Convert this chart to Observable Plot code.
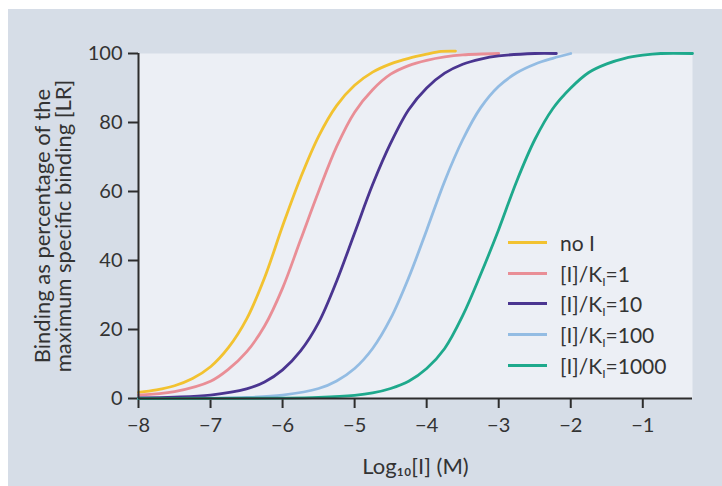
<!DOCTYPE html>
<html>
<head>
<meta charset="utf-8">
<script src="https://cdn.jsdelivr.net/npm/d3@7"></script>
<script src="https://cdn.jsdelivr.net/npm/@observablehq/plot@0.6"></script>
<style>
  html, body { margin: 0; padding: 0; background: #ffffff; }
  body { width: 722px; height: 486px; position: relative; overflow: hidden; font-family: Lato, "DejaVu Sans", sans-serif; color: #333; }
  #panel { position: absolute; left: 8px; top: 9px; right: 0; bottom: 0; background: #d6dde7; }
  #chart { position: absolute; left: 0; top: 0; }
  #legend { position: absolute; left: 508px; top: 227px; font-size: 21px; color: #333; }
  .row { display: flex; align-items: center; height: 30.7px; white-space: nowrap; }
  .sw { width: 39px; height: 3px; margin-right: 13px; }
  sub { font-size: 12px; vertical-align: -4px; line-height: 0; }
</style>
</head>
<body>
<div id="panel"></div>
<div id="chart"></div>
<div id="legend"></div>
<script>
// Series: x = Log10[I] (M), y = binding as % of max specific binding
const noI_x = [-8, -7.75, -7.5, -7.25, -7, -6.75, -6.5, -6.25, -6, -5.75, -5.5, -5.25, -5, -4.75, -4.5, -4.25, -4, -3.8, -3.6];
const noI_y = [1.8, 2.5, 3.7, 5.8, 9.2, 14.8, 23, 35, 50, 64, 76, 84.9, 90.8, 94.6, 97, 98.6, 99.8, 100.6, 100.7];

const k1_x = [-8, -7.5, -7, -6.75, -6.5, -6.25, -6, -5.75, -5.5, -5.25, -5, -4.75, -4.5, -4.25, -4, -3.75, -3.5, -3];
const k1_y = [1.0, 2.0, 5.0, 8.5, 13.5, 21, 32, 46, 60, 73, 83, 89.5, 94, 96.5, 98, 99, 99.6, 100];

const k10_x = [-8, -7.5, -7, -6.5, -6.25, -6, -5.75, -5.5, -5.25, -5, -4.75, -4.5, -4.25, -4, -3.75, -3.5, -3.25, -3, -2.5, -2.2];
const k10_y = [0.2, 0.4, 1.0, 2.8, 4.8, 8.3, 13.8, 22, 34, 48, 62, 74, 83.7, 90, 94.3, 96.9, 98.4, 99.3, 100, 100];

const k100_x = [-8, -7, -6.5, -6, -5.5, -5.25, -5, -4.75, -4.5, -4.25, -4, -3.75, -3.5, -3.25, -3, -2.75, -2.5, -2.25, -2];
const k100_y = [0, 0.1, 0.3, 1.0, 2.9, 5.1, 8.7, 14.5, 23.2, 35, 48.8, 63, 75, 84.3, 90.5, 94.4, 96.9, 98.6, 100];

const k1000_x = [-8, -6, -5.5, -5, -4.75, -4.5, -4.25, -4, -3.75, -3.5, -3.25, -3, -2.75, -2.5, -2.25, -2, -1.75, -1.5, -1.25, -1, -0.75, -0.31];
const k1000_y = [0, 0.1, 0.3, 0.9, 1.6, 2.9, 5, 8.7, 14.5, 24, 36, 49, 63, 75, 84, 90, 94.5, 97, 98.6, 99.5, 100, 100];

const seriesNames = ["no I", "[I]/K_I=1", "[I]/K_I=10", "[I]/K_I=100", "[I]/K_I=1000"];
const seriesColors = ["#f2c230", "#e98e96", "#4a3590", "#93bce3", "#1ea98c"];
const xTicks = [-8, -7, -6, -5, -4, -3, -2, -1];
const yTicks = [0, 20, 40, 60, 80, 100];

const seriesXs = [noI_x, k1_x, k10_x, k100_x, k1000_x];
const seriesYs = [noI_y, k1_y, k10_y, k100_y, k1000_y];
const rows = [];
seriesXs.forEach((xs, i) => xs.forEach((x, j) => rows.push({series: seriesNames[i], x, y: seriesYs[i][j]})));

const axisColor = "#2d2d2d";

const chart = Plot.plot({
  width: 722,
  height: 486,
  marginLeft: 138,
  marginRight: 30,
  marginTop: 53,
  marginBottom: 88,
  style: {background: "transparent", fontFamily: "Lato, 'DejaVu Sans', sans-serif", fontSize: "20px", color: "#333"},
  x: {domain: [-8, -0.31], ticks: xTicks, tickSize: 10, tickPadding: 9, label: null},
  y: {domain: [0, 100], ticks: yTicks, tickSize: 10, tickPadding: 6, label: null},
  color: {domain: seriesNames, range: seriesColors},
  marks: [
    Plot.frame({fill: "#eceff5", stroke: null}),
    ...seriesNames.map(name => Plot.line(rows.filter(d => d.series === name), {
      x: "x", y: "y", stroke: "series", strokeWidth: 2.8, curve: "catmull-rom"
    })),
    Plot.ruleY([0], {stroke: axisColor, strokeWidth: 2}),
    Plot.ruleX([-8], {stroke: axisColor, strokeWidth: 2}),
    Plot.text([0], {
      frameAnchor: "left", textAnchor: "middle", lineAnchor: "middle", rotate: -90, dx: -85,
      text: () => "Binding as percentage of the\nmaximum specific binding [LR]",
      fontSize: 22, lineHeight: 0.98, fill: "#333"
    }),
    Plot.text([0], {
      frameAnchor: "bottom", textAnchor: "middle", lineAnchor: "middle", dy: 68,
      text: () => "Log\u2081\u2080[I] (M)", fontSize: 22, fill: "#333"
    })
  ]
});
chart.querySelectorAll("[aria-label='x-axis tick'], [aria-label='y-axis tick']").forEach(g => {
  g.setAttribute("stroke", axisColor);
  g.setAttribute("stroke-width", "2");
});
document.getElementById("chart").appendChild(chart);

// Legend
const legend = document.getElementById("legend");
seriesNames.forEach((name, i) => {
  const row = document.createElement("div");
  row.className = "row";
  const sw = document.createElement("div");
  sw.className = "sw";
  sw.style.background = seriesColors[i];
  const label = document.createElement("span");
  if (name.includes("_I")) {
    const [a, b] = name.split("_I");
    label.innerHTML = a + "<sub>I</sub>" + b;
  } else {
    label.textContent = name;
  }
  row.appendChild(sw);
  row.appendChild(label);
  legend.appendChild(row);
});
</script>
</body>
</html>
